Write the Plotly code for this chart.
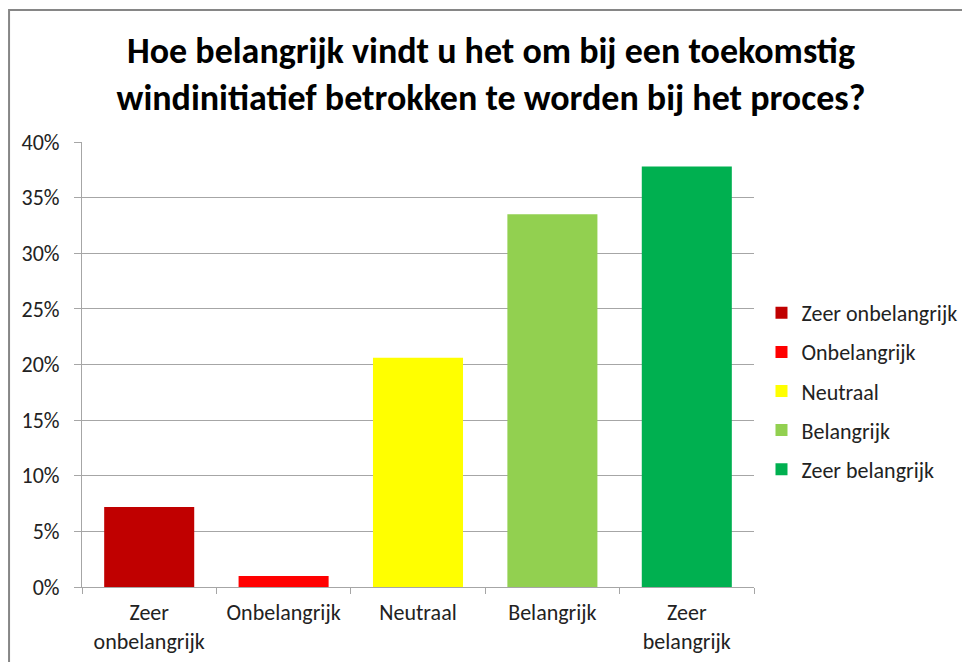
import plotly.graph_objects as go

categories = ["Zeer onbelangrijk", "Onbelangrijk", "Neutraal", "Belangrijk", "Zeer belangrijk"]
tick_labels = ["Zeer<br>onbelangrijk", "Onbelangrijk", "Neutraal", "Belangrijk", "Zeer<br>belangrijk"]
values = [0.072, 0.010, 0.206, 0.335, 0.378]
colors = ["#C00000", "#FF0000", "#FFFF00", "#92D050", "#00B050"]
y_ticks = [0, 0.05, 0.10, 0.15, 0.20, 0.25, 0.30, 0.35, 0.40]

OFF = 8  # default page body margin
W, H = 970 - OFF, 662 - OFF
L, T = 82 - OFF, 142 - OFF
R = W - (754.5 - OFF)
B = H - (587 - OFF)

fig = go.Figure()
for cat, val, col in zip(categories, values, colors):
    fig.add_trace(go.Bar(
        x=[cat], y=[val], name=cat, marker=dict(color=col, line=dict(width=0)),
        width=0.67, legendgroup=cat, hoverinfo="y",
    ))

font = "Calibri, Carlito, Lato, sans-serif"
pw = W - L - R
ph = H - T - B
fig.update_layout(
    width=W, height=H,
    margin=dict(l=L, r=R, t=T, b=B, pad=0, autoexpand=False),
    paper_bgcolor="white", plot_bgcolor="white",
    barmode="overlay",
    font=dict(family=font, size=22, color="#222"),
    title=dict(
        text="<b>Hoe belangrijk vindt u het om bij een toekomstig<br>windinitiatief betrokken te worden bij het proces?</b>",
        x=(491 - OFF) / W, xanchor="center", y=1 - 55 / H, yanchor="middle",
        font=dict(family=font, size=36, color="#000"),
    ),
    xaxis=dict(
        categoryorder="array", categoryarray=categories,
        tickmode="array", tickvals=categories, ticktext=tick_labels,
        showline=True, linecolor="#a6a6a6", linewidth=1,
        tickson="boundaries", ticks="outside", ticklen=6, tickcolor="#a6a6a6",
        showgrid=False, tickfont=dict(size=22, color="#222"),
        ticklabelstandoff=6, automargin=False,
        range=[-0.5, 4.5],
    ),
    yaxis=dict(
        range=[0, 0.40], tickvals=y_ticks, tickformat=".0%",
        showline=True, linecolor="#a6a6a6", linewidth=1,
        ticks="outside", ticklen=7, tickcolor="#a6a6a6",
        showgrid=True, gridcolor="#a6a6a6", gridwidth=1,
        tickfont=dict(size=22, color="#222"), zeroline=False,
        ticklabelstandoff=10, automargin=False,
    ),
    legend=dict(
        x=(762 - OFF - L) / pw, xanchor="left", y=(587 - 292) / ph, yanchor="top",
        traceorder="grouped", tracegroupgap=7.5,
        font=dict(size=22, color="#222"), itemwidth=30,
        bgcolor="rgba(0,0,0,0)",
    ),
    showlegend=True,
)

fig.add_shape(
    type="rect", xref="paper", yref="paper",
    x0=(9 - OFF - L) / pw, x1=1.5, y0=-0.5, y1=(587 - 10) / ph,
    line=dict(color="#868686", width=2), fillcolor="rgba(0,0,0,0)", layer="below",
)

fig.write_html("out.html")
